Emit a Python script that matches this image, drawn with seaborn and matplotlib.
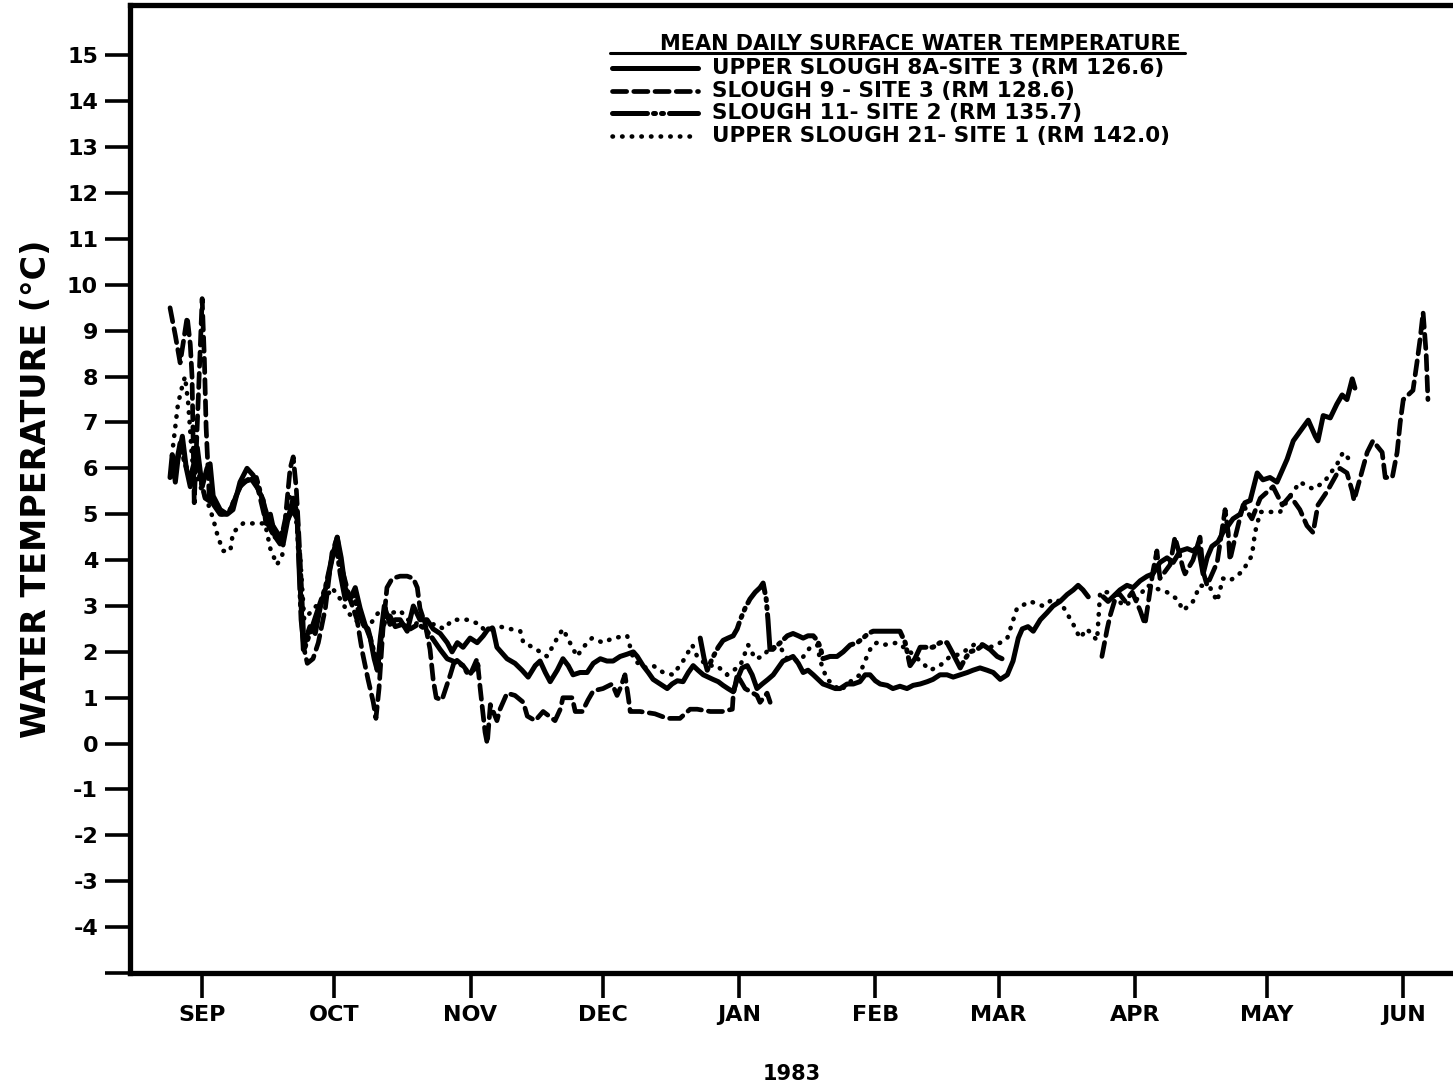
import numpy as np
import pandas as pd
import matplotlib
matplotlib.use("Agg")
import matplotlib.pyplot as plt
import seaborn as sns

# ---------------- data (days since 1 Sep 1982, mean daily temperature in deg C) ----------------
# NaN marks a gap in the record
s8a_day = [-7.3, -6.8, -6.1, -5.5, -4.5, -3.6, -2.7, -1.1, 0.0, 1.1, 1.8, 2.5, 4.1, 5.7, 7.0, 8.6,
           10.2, 11.6, 12.7, 13.9, 14.5, 15.5, 16.6, 18.4, 19.5, 20.7, 21.6, 22.3, 23.0, 23.6, 24.5,
           25.7, 26.8, 28.4, 29.8, 30.7, 31.6, 32.5, 33.6, 34.8, 35.9, 37.0, 38.2, 39.1, 39.8, 40.5,
           41.4, 42.7, 43.9, 45.0, 46.6, 48.0, 49.5, 51.1, 52.5, 54.1, 55.7, 56.8, 58.0, 59.3, 60.9,
           62.5, 63.9, 65.0, 66.1, 67.0, 68.4, 69.3, 71.1, 72.7, 74.1, 75.7, 76.8, 78.0, 79.1, 80.7,
           82.0, 83.2, 84.3, 85.9, 87.5, 88.9, 90.5, 92.0, 93.4, 95.0, 96.6, 98.0, 98.9, 100.2, 101.4,
           102.5, 104.1, 105.7, 106.8, 108.0, 109.3, 110.5, 111.6, 112.7, 113.9, 115.0, 116.1, 117.3,
           118.4, 119.5, 120.7, 121.6, 122.7, 123.9, 125.0, 126.1, 127.3, 128.6, 129.8, 130.9, 132.0,
           133.2, 134.3, 135.5, 136.6, 137.7, 138.9, 140.0, 141.1, 142.0, 143.9, 145.0, 146.6, 148.0,
           149.5, 150.7, 151.8, 153.0, 154.1, 155.7, 157.0, 158.6, 160.2, 161.6, 163.2, 164.8, 166.1,
           167.7, 169.3, 170.7, 172.3, 173.9, 175.2, 176.8, 178.4, 179.8, 181.4, 183.0, 184.3, 185.5,
           186.4, 187.7, 188.9, 190.5, 192.0, 193.4, 195.0, 196.6, 198.0, 199.1, 200.2, 201.4, 203.0,
           204.8, 205.9, 207.0, 208.6, 210.2, 211.6, 213.2, 214.8, 216.1, 217.7, 219.3, 220.7, 222.3,
           223.9, 225.2, 226.4, 227.5, 228.4, 229.5, 230.9, 232.0, 233.2, 234.3, 235.9, 237.0, 238.2,
           239.8, 241.1, 242.7, 244.3, 246.6, 248.0, 249.5, 251.4, 253.0, 253.6, 254.8, 256.4, 257.9,
           259.1, 260.2, 261.4, 262.0]
s8a_temp = [5.8, 6.3, 5.7, 6.2, 6.7, 6.0, 5.6, 6.45, 5.6, 6.0, 6.1, 5.4, 5.1, 5.0, 5.1, 5.7,
            6.0, 5.85, 5.55, 5.3, 4.8, 5.0, 4.5, 4.35, 4.9, 5.35, 5.0, 3.4, 2.05, 2.3, 2.55,
            2.4, 2.95, 3.5, 4.15, 4.5, 4.05, 3.4, 3.15, 3.4, 2.95, 2.6, 2.3, 1.85, 1.6, 2.3,
            3.0, 2.6, 2.7, 2.7, 2.45, 3.0, 2.7, 2.7, 2.5, 2.4, 2.2, 2.0, 2.2, 2.1, 2.3,
            2.2, 2.35, 2.5, 2.5, 2.1, 1.95, 1.85, 1.75, 1.6, 1.45, 1.7, 1.8, 1.55, 1.35, 1.6,
            1.85, 1.7, 1.5, 1.55, 1.55, 1.75, 1.85, 1.8, 1.8, 1.9, 1.95, 2.0, 1.9, 1.7, 1.55,
            1.4, 1.3, 1.2, 1.3, 1.37, 1.35, 1.55, 1.7, 1.6, 1.5, 1.45, 1.4, 1.35,
            1.27, 1.2, 1.13, 1.4, 1.65, 1.7, 1.5, 1.2, 1.3, 1.4, 1.5, 1.65, 1.8,
            1.85, 1.9, 1.75, 1.55, 1.6, 1.5, 1.4, 1.3, 1.27, 1.2, 1.2, 1.3, 1.3,
            1.35, 1.5, 1.5, 1.37, 1.3, 1.27, 1.2, 1.25, 1.2, 1.27, 1.3, 1.35, 1.4,
            1.5, 1.5, 1.45, 1.5, 1.55, 1.6, 1.65, 1.6, 1.55, 1.4, 1.5, 1.8, 2.3,
            2.5, 2.55, 2.45, 2.7, 2.85, 3.0, 3.1, 3.25, 3.35, 3.45, 3.35, 3.2, np.nan,
            3.2, 3.1, 3.2, 3.35, 3.45, 3.4, 3.55, 3.65, 3.7, 3.95, 4.05, 3.95, 4.2,
            4.25, 4.2, 4.3, 3.7, 4.05, 4.3, 4.4, 4.6, 4.75, 4.9, 5.0, 5.25, 5.3,
            5.9, 5.75, 5.8, 5.7, 6.2, 6.6, 6.8, 7.05, 6.7, 6.6, 7.15, 7.1, 7.4,
            7.6, 7.5, 7.95, 7.75]

s9_day = [-7.3, -6.1, -5.0, -3.4, -2.7, -2.3, -1.8, 0.0, 0.5, 0.9, 1.6, 3.0, 4.5, 6.4, 8.6, 10.9,
          12.7, 14.3, 15.9, 17.7, 18.9, 20.0, 20.7, 21.4, 22.0, 22.7, 23.2, 23.9, 25.2, 26.4, 28.0,
          29.5, 30.7, 31.8, 33.6, 35.2, 36.4, 37.7, 38.9, 39.5, 40.2, 41.1, 42.0, 43.2, 45.0, 46.6,
          48.0, 48.9, 49.5, 50.7, 51.8, 52.5, 53.2, 54.5, 56.4, 57.5, 59.3, 60.9, 62.5, 63.2, 63.6,
          64.3, 64.8, 65.5, 67.0, 67.7, 69.3, 71.1, 73.0, 73.9, 75.7, 77.5, 80.2, 81.4, 82.0, 84.1,
          84.8, 86.4, 87.7, 88.9, 91.1, 93.2, 94.3, 95.0, 96.1, 96.8, 97.3, 99.5, 102.9, 105.7,
          108.6, 110.9, 112.5, 115.5, 118.2, 120.5, 120.7, 121.6, 123.4, 126.1, 126.8, 128.4, 129.1,
          150.0,
          204.5, 205.7, 206.4, 207.5, 208.2, 209.8, 211.4, 213.2, 214.3, 216.1, 217.0, 217.7, 220.0,
          221.1, 221.8, 223.0, 223.4, 225.2, 226.8, 227.5, 228.4, 230.7, 232.5, 233.2, 233.6, 234.8,
          236.6, 238.6, 240.5, 243.4, 245.5, 247.3, 249.5, 251.1, 252.5, 253.6, 255.7, 258.6, 260.2,
          261.4, 261.8, 264.8, 266.1, 268.2, 268.9, 270.5, 271.6, 272.3, 273.0, 275.2, 276.1, 276.8,
          277.5, 278.2, 278.6]
s9_temp = [9.5, 8.9, 8.3, 9.3, 8.7, 8.0, 5.25, 9.7, 8.4, 6.9, 5.4, 5.25, 5.0, 5.1, 5.6, 5.8,
           5.55, 4.9, 4.6, 4.35, 4.9, 6.0, 6.25, 5.55, 4.5, 3.15, 2.05, 1.75, 1.85, 2.2, 2.95,
           4.15, 4.5, 3.8, 3.15, 2.7, 2.0, 1.4, 0.9, 0.55, 1.2, 2.5, 3.4, 3.6, 3.65, 3.65,
           3.6, 3.4, 2.95, 2.6, 2.05, 1.4, 1.0, 0.95, 1.5, 1.85, 1.7, 1.5, 1.85, 1.2, 0.85,
           0.25, 0.0, 0.85, 0.5, 0.75, 1.1, 1.05, 0.9, 0.6, 0.5, 0.7, 0.5, 0.75, 1.0, 1.0,
           0.7, 0.7, 0.95, 1.15, 1.2, 1.3, 1.05, 1.2, 1.5, 1.05, 0.7, 0.7, 0.65, 0.55,
           0.55, 0.75, 0.75, 0.7, 0.7, 0.75, 1.05, 1.5, 1.2, 1.05, 0.9, 1.1, 0.9,
           np.nan,
           1.9, 2.5, 2.8, 3.15, 3.3, 3.1, 3.3, 2.9, 2.6, 3.75, 4.2, 3.6, 3.9,
           4.5, 4.25, 3.8, 3.7, 4.0, 4.5, 3.75, 3.45, 3.95, 5.1, 4.6, 4.0, 4.5,
           5.2, 4.9, 5.35, 5.6, 5.2, 5.4, 5.1, 4.75, 4.6, 5.2, 5.5, 6.0, 5.9,
           5.5, 5.3, 6.35, 6.6, 6.35, 5.8, 5.8, 6.35, 7.0, 7.5, 7.7, 8.3, 8.8,
           9.4, 8.5, 7.5]

s11_day = [-6.1, -5.0, -3.9, -2.7, -1.6, -0.5, 0.7, 2.3, 4.1, 5.9, 7.5, 9.1, 10.9, 12.3, 13.6,
           15.0, 16.4, 17.7, 19.1, 20.5, 21.6, 22.5, 23.2, 24.1, 25.2, 26.4, 28.0, 29.5, 30.5, 31.4,
           32.5, 34.1, 35.5, 36.6, 37.7, 38.9, 40.0, 40.9, 42.3, 43.9, 45.5, 47.3, 49.1, 50.7, 52.3,
           54.1, 55.7, 57.0, 58.2, 59.3, 60.5, 61.6, 62.7,
           90.0,
           113.2, 114.1, 114.8, 115.9, 117.3, 118.4, 119.5, 120.7, 121.6, 122.3, 123.4, 124.5, 125.7,
           126.8, 127.5, 128.2, 128.6, 129.1, 130.2, 131.4, 133.0, 134.3, 135.5, 136.6, 137.7, 138.9,
           139.8, 140.5, 141.1, 142.7, 144.3, 145.7, 147.3, 148.9, 150.2, 151.4, 152.5, 154.1, 157.0,
           158.6, 159.8, 160.9, 162.0, 163.2, 166.1, 167.7, 169.3, 170.7, 172.3, 173.4, 174.5, 176.1,
           177.5, 179.1, 180.7, 181.8]
s11_temp = [6.0, 6.55, 6.1, 5.8, 6.2, 5.8, 5.35, 5.25, 5.0, 5.0, 5.35, 5.7, 5.75, 5.8, 5.35,
            4.9, 4.7, 4.5, 4.8, 5.1, 4.9, 2.7, 2.05, 2.3, 2.6, 2.95, 3.4, 4.05, 4.3, 3.7,
            3.15, 3.3, 2.9, 2.6, 2.5, 2.05, 1.75, 2.5, 2.85, 2.55, 2.6, 2.5, 2.6, 2.5, 2.3,
            2.05, 1.85, 1.8, 1.75, 1.7, 1.5, 1.6, 1.7,
            np.nan,
            2.3, 1.85, 1.6, 1.85, 2.1, 2.25, 2.3, 2.35, 2.5, 2.7, 2.95, 3.15, 3.3,
            3.4, 3.5, 3.15, 2.7, 2.0, 2.1, 2.2, 2.35, 2.4, 2.35, 2.3, 2.35, 2.35,
            2.25, 2.1, 1.85, 1.9, 1.9, 2.0, 2.15, 2.2, 2.3, 2.4, 2.45, 2.45, 2.45,
            2.45, 2.2, 1.7, 1.85, 2.1, 2.1, 2.2, 2.2, 1.95, 1.65, 1.85, 2.0, 2.05,
            2.15, 2.05, 1.9, 1.85]

s21_day = [-6.6, -5.5, -4.5, -3.9, -3.2, -2.7, -2.3, -1.1, 0.0, 1.1, 2.5, 3.6, 4.8, 6.4, 7.0, 9.3,
           12.5, 14.3, 15.5, 17.0, 18.2, 18.9, 20.0, 21.1, 22.3, 23.2, 24.5, 26.4, 28.0, 29.5, 31.4,
           33.2, 34.8, 36.4, 38.2, 40.0, 41.6, 43.2, 45.0, 46.8, 48.4, 50.0, 51.8, 53.4, 54.8, 57.0,
           60.2, 63.2, 63.9, 67.7, 70.0, 72.3, 73.0, 75.2, 78.4, 80.7, 82.0, 83.6, 85.2, 86.6, 88.6,
           91.1, 93.4, 96.6, 97.3, 98.0, 100.2, 102.5, 104.8, 107.0, 109.3, 111.4, 112.5, 114.8,
           117.0, 119.3, 122.3, 124.1, 125.7, 127.5, 129.1, 131.4, 133.0, 135.9, 138.2, 139.8, 140.5,
           142.0, 143.4, 145.0, 147.3, 149.5, 150.2, 151.1, 152.3, 153.4, 154.8, 158.0, 160.9, 163.2,
           165.5, 167.7, 170.0, 172.3, 176.1, 179.1, 181.4, 183.0, 185.2, 188.2, 191.1, 193.4, 195.0,
           198.0, 199.5, 201.1, 203.4, 204.1, 207.0, 209.3, 212.5, 214.8, 219.3, 221.6, 223.0, 225.2,
           226.8, 229.1, 230.7, 232.0, 233.6, 236.4, 238.6, 239.3, 240.5, 245.0, 247.3, 249.5, 252.5,
           255.0, 258.0, 259.3, 261.6]
s21_temp = [6.5, 7.4, 7.8, 8.0, 7.45, 6.8, 6.2, 5.8, 5.5, 5.3, 4.9, 4.5, 4.2, 4.2, 4.6, 4.8,
            4.8, 4.8, 4.25, 3.9, 4.1, 4.9, 5.4, 5.1, 4.05, 2.7, 2.85, 3.05, 3.15, 3.4, 3.15,
            2.85, 2.7, 2.55, 2.6, 2.85, 2.95, 2.85, 2.9, 2.7, 2.6, 2.7, 2.6, 2.6, 2.5, 2.7,
            2.7, 2.6, 2.5, 2.55, 2.5, 2.45, 2.2, 2.1, 1.9, 2.3, 2.5, 2.2, 1.9, 2.1, 2.3,
            2.2, 2.3, 2.35, 2.1, 1.85, 1.65, 1.7, 1.55, 1.5, 1.8, 2.15, 1.9, 1.7,
            1.7, 1.5, 1.7, 2.15, 1.85, 1.9, 2.1, 2.1, 1.85, 1.8, 2.1, 2.15, 1.8,
            1.4, 1.3, 1.15, 1.35, 1.5, 1.7, 1.9, 2.15, 2.2, 2.15, 2.2, 2.0, 1.8,
            1.6, 1.7, 1.9, 1.95, 2.2, 2.1, 2.2, 2.3, 2.95, 3.1, 3.0, 3.15, 3.1,
            2.6, 2.3, 2.5, 2.25, 3.3, 3.3, 3.0, 3.15, 3.45, 3.3, 3.15, 2.9, 3.1,
            3.45, 3.4, 3.1, 3.6, 3.55, 3.75, 4.1, 4.6, 5.05, 5.05, 5.4, 5.7, 5.55,
            5.7, 6.1, 6.35, 6.1]

series_names = ["UPPER SLOUGH 8A-SITE 3 (RM 126.6)",
                "SLOUGH 9 - SITE 3 (RM 128.6)",
                "SLOUGH 11- SITE 2 (RM 135.7)",
                "UPPER SLOUGH 21- SITE 1 (RM 142.0)"]
month_labels = ["SEP", "OCT", "NOV", "DEC", "JAN", "FEB", "MAR", "APR", "MAY", "JUN"]
month_dates = ["1982-09-01", "1982-10-01", "1982-11-01", "1982-12-01", "1983-01-01",
               "1983-02-01", "1983-03-01", "1983-04-01", "1983-05-01", "1983-06-01"]
y_ticks = list(range(-5, 16))
legend_title = "MEAN DAILY SURFACE WATER TEMPERATURE"


def to_frame(days, temps, name):
    t = np.asarray(temps, dtype=float)
    seg = np.cumsum(np.isnan(t))
    df = pd.DataFrame({"day": days, "temp": t, "seg": seg, "series": name})
    return df.dropna()


frames = [to_frame(s8a_day, s8a_temp, series_names[0]),
          to_frame(s9_day, s9_temp, series_names[1]),
          to_frame(s11_day, s11_temp, series_names[2]),
          to_frame(s21_day, s21_temp, series_names[3])]

styles = [dict(linestyle="-", lw=3.6, solid_capstyle="round", solid_joinstyle="round"),
          dict(linestyle=(0, (3.0, 1.5)), lw=3.4, dash_capstyle="round"),
          dict(linestyle=(0, (7.0, 1.2, 0.4, 1.2, 0.4, 1.2)), lw=3.6, dash_capstyle="round"),
          dict(linestyle=(0, (0.1, 2.0)), lw=3.3, dash_capstyle="round")]

sns.set_theme(style="white")
plt.rcParams["font.family"] = ["DejaVu Sans"]
for key in ["text.color", "axes.labelcolor", "xtick.color", "ytick.color", "axes.edgecolor"]:
    plt.rcParams[key] = "black"

W, H = 1453, 1084
fig = plt.figure(figsize=(W / 100, H / 100), dpi=100)
ax = fig.add_axes([130 / W, 111 / H, 1323 / W, 968 / H])

for df, st in zip(frames, styles):
    sns.lineplot(data=df, x="day", y="temp", units="seg", estimator=None, sort=False,
                 color="black", legend=False, ax=ax, **st)

ax.set_xlim(-16.4, 284.3)
ax.set_ylim(-5, 16.1)

start = pd.Timestamp("1982-09-01")
xpos = [(pd.Timestamp(d) - start).days for d in month_dates]
ax.set_xticks(xpos, month_labels, fontsize=16, fontweight="bold")
ax.set_yticks(y_ticks, ["" if v == -5 else str(v) for v in y_ticks], fontsize=16, fontweight="bold")
ax.tick_params(axis="both", direction="out", length=18, width=2.6, color="black",
               labelcolor="black", left=True, bottom=True)
ax.tick_params(axis="y", pad=5)
ax.tick_params(axis="x", pad=5)

for side in ["top", "left", "bottom"]:
    ax.spines[side].set_visible(True)
    ax.spines[side].set_linewidth(3.8)
    ax.spines[side].set_color("black")
ax.spines["right"].set_visible(False)
ax.grid(False)

ax.set_ylabel("WATER TEMPERATURE (°C)", fontsize=24, fontweight="bold", labelpad=10,
              color="black")
ax.set_xlabel("1983", fontsize=15, fontweight="bold", labelpad=28, color="black")

# ---- legend block (drawn in axes fraction) ----
def fx(px):
    return (px - 130) / 1323


def fy(py):
    return (973 - py) / 968


ax.text(fx(920), fy(44), legend_title, transform=ax.transAxes, ha="center", va="center",
        fontsize=15, fontweight="bold", color="black")
ax.plot([fx(610), fx(1185)], [fy(53), fy(53)], transform=ax.transAxes, color="black",
        lw=2.2, clip_on=False)
rows_y = [68, 91, 113, 136]
for name, st, ry in zip(series_names, styles, rows_y):
    ax.plot([fx(612), fx(698)], [fy(ry), fy(ry)], transform=ax.transAxes, color="black",
            clip_on=False, **st)
    ax.text(fx(712), fy(ry), name, transform=ax.transAxes, ha="left", va="center",
            fontsize=15.5, fontweight="bold", color="black")

fig.savefig("out.png", dpi=100, facecolor="white")
